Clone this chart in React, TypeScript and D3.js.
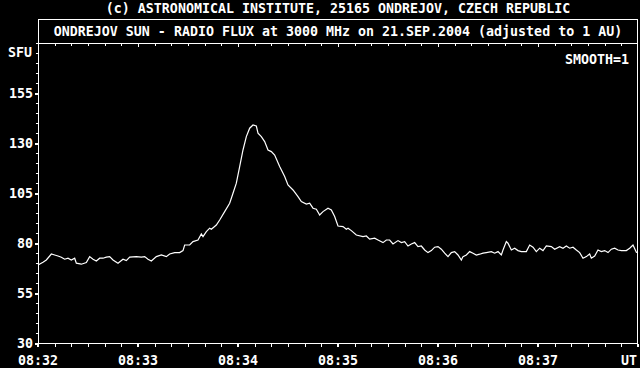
import React from "react";
import * as d3 from "d3";

const seconds = [
  0, 3, 5, 8, 10, 12, 14, 16, 18, 20, 22, 23, 26, 29, 31, 33, 35, 37, 39, 41, 43, 45, 48, 51, 53, 55, 59,
  62, 64, 66, 68, 71, 74, 77, 79, 82, 85, 87, 88, 91, 93, 96, 98, 99, 101, 103, 104, 107, 109, 112, 115,
  117, 119, 121, 123, 125, 127, 129, 131, 132, 134, 136, 138, 140, 142, 145, 148, 150, 153, 156, 158,
  161, 163, 165, 167, 169, 171, 174, 176, 178, 180, 183, 185, 186, 188, 191, 195, 197, 199, 202, 204,
  207, 209, 211, 213, 216, 218, 220, 222, 224, 226, 228, 230, 232, 234, 236, 238, 240, 242, 244, 246,
  248, 250, 252, 254, 255, 257, 259, 261, 263, 265, 267, 269, 272, 274, 276, 278, 279, 281, 282, 284,
  286, 288, 290, 293, 295, 297, 299, 301, 303, 305, 308, 310, 313, 315, 317, 319, 321, 323, 325, 327,
  329, 331, 332, 334, 336, 338, 340, 342, 344, 346, 348, 350, 353, 355, 357, 359, 360,
];
const flux = [
  69.0, 70.4, 71.5, 74.5, 74.0, 73.5, 72.9, 71.9, 72.4, 71.5, 72.4, 69.9, 69.4, 70.2, 73.2, 71.9, 71.0,
  72.4, 72.4, 72.9, 73.2, 71.5, 69.9, 71.9, 71.2, 72.9, 73.2, 72.9, 73.2, 71.9, 71.0, 73.2, 74.0, 73.2,
  74.5, 75.2, 75.2, 76.2, 79.0, 79.0, 80.7, 81.5, 84.5, 83.2, 85.7, 87.4, 86.9, 89.0, 91.5, 95.7, 99.9,
  104.9, 109.9, 118.2, 126.5, 133.2, 137.4, 139.0, 138.5, 134.9, 133.2, 130.7, 126.5, 125.7, 124.0,
  118.2, 113.2, 109.0, 106.5, 103.2, 100.7, 99.5, 99.9, 97.4, 96.9, 94.0, 95.7, 97.4, 96.5, 93.2, 88.5,
  88.2, 86.9, 87.4, 86.2, 84.0, 83.2, 83.5, 81.9, 82.4, 81.5, 80.2, 81.5, 81.5, 79.5, 81.2, 80.2, 80.7,
  78.5, 79.5, 80.2, 78.2, 78.5, 76.5, 75.2, 76.2, 77.9, 78.2, 76.9, 74.9, 73.2, 75.2, 75.7, 74.0, 71.5,
  73.2, 74.0, 75.7, 74.9, 74.0, 74.4, 74.9, 75.2, 75.7, 74.9, 75.7, 74.0, 76.5, 80.7, 79.9, 76.5, 77.4,
  76.2, 75.7, 75.7, 79.0, 77.9, 75.7, 77.4, 76.2, 78.5, 78.2, 76.9, 78.2, 77.4, 78.5, 77.4, 77.9, 76.5,
  75.2, 72.4, 73.2, 74.5, 72.4, 73.5, 76.5, 75.7, 76.2, 75.2, 76.9, 77.4, 76.5, 76.2, 76.2, 77.4, 79.0,
  75.4, 75.2,
];

const minuteTicks = [0, 60, 120, 180, 240, 300];
const minuteLabels = ["08:32", "08:33", "08:34", "08:35", "08:36", "08:37"];
const yTickValues = [30, 55, 80, 105, 130, 155];

const title1 = "(c) ASTRONOMICAL INSTITUTE, 25165 ONDREJOV, CZECH REPUBLIC";
const title2 = "ONDREJOV SUN - RADIO FLUX at 3000 MHz on 21.SEP.2004 (adjusted to 1 AU)";

export default function App() {
  const W = 640, H = 368;
  const L = 38, R = 638, T = 43, B = 343;
  const x = d3.scaleLinear().domain([0, 360]).range([L, R]);
  const y = d3.scaleLinear().domain([30, 180]).range([B, T]);
  const pts = seconds.map((s, i) => [s, flux[i]] as [number, number]);
  const line = d3.line<[number, number]>().x((d) => x(d[0])).y((d) => y(d[1]));
  const font = {
    fontFamily: "'DejaVu Sans Mono', 'Liberation Mono', monospace",
    fontWeight: "bold" as const,
    fontSize: 13.3,
    fill: "#fff",
  };
  const minor10 = d3.range(0, 361, 10);
  const minorY = d3.range(30, 181, 5);
  return (
    <svg width={W} height={H} style={{ position: "absolute", left: 0, top: 0, background: "#000" }}>
      <rect x={0} y={0} width={W} height={H} fill="#000" />
      <text x={338} y={12.5} textAnchor="middle" {...font}>{title1}</text>
      <rect x={L + 0.5} y={19.5} width={R - L - 1} height={T - 19.5} fill="none" stroke="#fff" strokeWidth={1} shapeRendering="crispEdges" />
      <text x={338} y={35.5} textAnchor="middle" {...font}>{title2}</text>
      <rect x={L + 0.5} y={T + 0.5} width={R - L - 1} height={B - T} fill="none" stroke="#fff" strokeWidth={1} shapeRendering="crispEdges" />
      {minor10.slice(1, -1).map((s) => (
        <line key={"t" + s} x1={Math.round(x(s)) + 0.5} x2={Math.round(x(s)) + 0.5} y1={T + 1} y2={T + (s % 60 === 0 ? 4 : 3)} stroke="#fff" shapeRendering="crispEdges" />
      ))}
      {minor10.map((s) =>
        s % 60 === 0 ? (
          <rect key={"b" + s} x={Math.round(x(s)) - 1} y={B + 1} width={2} height={3} fill="#fff" shapeRendering="crispEdges" />
        ) : (
          <line key={"b" + s} x1={Math.round(x(s)) + 0.5} x2={Math.round(x(s)) + 0.5} y1={B + 1} y2={B + 4} stroke="#fff" shapeRendering="crispEdges" />
        )
      )}
      {minorY.map((v) =>
        yTickValues.includes(v) ? (
          <rect key={"l" + v} x={L - 3} y={Math.round(y(v)) - 0.5} width={3} height={2} fill="#fff" shapeRendering="crispEdges" />
        ) : (
          <line key={"l" + v} x1={L - 2} x2={L} y1={Math.round(y(v)) + 0.5} y2={Math.round(y(v)) + 0.5} stroke="#fff" shapeRendering="crispEdges" />
        )
      )}
      {yTickValues.map((v) => (
        <text key={"yl" + v} x={33} y={y(v) + 5} textAnchor="end" {...font}>{v}</text>
      ))}
      <text x={32} y={57} textAnchor="end" {...font}>SFU</text>
      <text x={629} y={64} textAnchor="end" {...font}>SMOOTH=1</text>
      {minuteTicks.map((s, i) => (
        <text key={"xl" + s} x={x(s)} y={365} textAnchor="middle" {...font}>{minuteLabels[i]}</text>
      ))}
      <text x={637} y={365} textAnchor="end" {...font}>UT</text>
      <path d={line(pts) || ""} fill="none" stroke="#fff" strokeWidth={1.2} strokeLinejoin="miter" />
    </svg>
  );
}
